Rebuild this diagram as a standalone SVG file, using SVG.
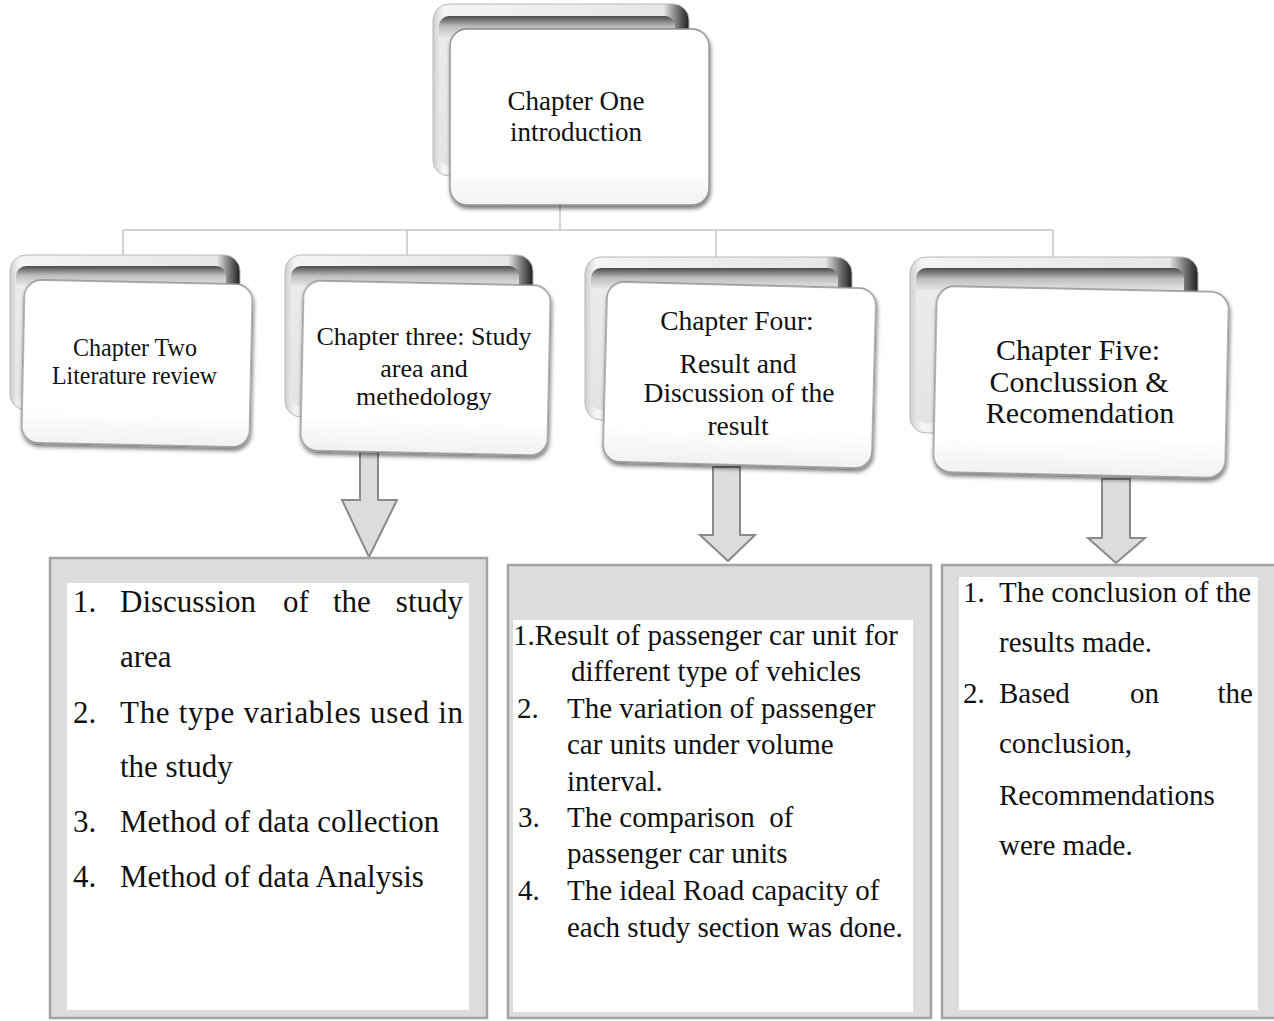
<svg xmlns="http://www.w3.org/2000/svg" width="1274" height="1021" viewBox="0 0 1274 1021">
<style>
.t{font-family:"Liberation Serif","Times New Roman",serif;fill:#111;}
.c{text-anchor:middle;}
.conn{stroke:#c6c6c6;stroke-width:1.5;fill:none;}
.arrow{fill:#dcdcdc;stroke:#8a8a8a;stroke-width:2;stroke-linejoin:miter;}
.outer{fill:#dcdcdc;stroke:#a3a3a3;stroke-width:2.5;}
.inner{fill:#ffffff;}
.bk{fill:url(#bkOuter);stroke:#b8b8b8;stroke-width:1;}
.bki{fill:url(#bkInner);}
.fr{fill:url(#frGrad);stroke:#8e8e8e;stroke-width:1.3;filter:url(#shadow);}
</style>
<defs>
<linearGradient id="bkOuter" x1="0" y1="0" x2="1" y2="0">
<stop offset="0" stop-color="#cfcfcf"/>
<stop offset="0.04" stop-color="#f4f4f4"/>
<stop offset="0.9" stop-color="#e6e6e6"/>
<stop offset="0.96" stop-color="#6a6a6a"/>
<stop offset="1" stop-color="#1e1e1e"/>
</linearGradient>
<linearGradient id="bkInner" x1="0" y1="0" x2="0" y2="1">
<stop offset="0" stop-color="#4a4a4a"/>
<stop offset="0.07" stop-color="#bdbdbd"/>
<stop offset="0.15" stop-color="#ebebeb"/>
<stop offset="1" stop-color="#e4e4e4"/>
</linearGradient>
<linearGradient id="frGrad" x1="0" y1="0" x2="0" y2="1">
<stop offset="0" stop-color="#ffffff"/>
<stop offset="0.8" stop-color="#ffffff"/>
<stop offset="1" stop-color="#f1f1f1"/>
</linearGradient>
<filter id="shadow" x="-10%" y="-10%" width="125%" height="130%">
<feGaussianBlur in="SourceAlpha" stdDeviation="2"/>
<feOffset dx="1" dy="3" result="o"/>
<feComponentTransfer><feFuncA type="linear" slope="0.55"/></feComponentTransfer>
<feMerge><feMergeNode/><feMergeNode in="SourceGraphic"/></feMerge>
</filter>
</defs>

<g id="connectors">
<path class="conn" d="M560,205 V230 M123,230 H1053 M123,230 V258 M407,230 V258 M716,230 V258 M1053,230 V258"/>
<polygon class="arrow" points="360,446 378,446 378,500 397,500 369,557 342,500 360,500"/>
<polygon class="arrow" points="713,467 740,467 740,535 755,535 728,561 700,535 713,535"/>
<polygon class="arrow" points="1102,479 1130,479 1130,538 1145,538 1116,563 1088,538 1102,538"/>
</g>

<g id="node-ch1">
<rect class="bk" x="433" y="4" width="256" height="172" rx="16"/>
<rect class="bki" x="439" y="16" width="236" height="150" rx="10"/>
<rect class="fr" x="450" y="29" width="259" height="176" rx="17"/>
<text class="t c" x="576" y="110" font-size="27">Chapter One</text>
<text class="t c" x="576" y="141" font-size="27">introduction</text>
</g>

<g id="node-ch2">
<rect class="bk" x="10" y="255" width="230" height="155" rx="16"/>
<rect class="bki" x="16" y="266" width="210" height="134" rx="10"/>
<rect class="fr" x="23" y="282" width="228" height="163" rx="17" transform="rotate(1.2 137 363)"/>
<text class="t" x="73" y="356" font-size="25" textLength="124" lengthAdjust="spacingAndGlyphs">Chapter Two</text>
<text class="t" x="52" y="384" font-size="25" textLength="165" lengthAdjust="spacingAndGlyphs">Literature review</text>
</g>

<g id="node-ch3">
<rect class="bk" x="285" y="255" width="248" height="162" rx="16"/>
<rect class="bki" x="291" y="266" width="228" height="141" rx="10"/>
<rect class="fr" x="302" y="283" width="247" height="170" rx="17" transform="rotate(1.2 425 368)"/>
<text class="t c" x="424" y="345" font-size="26">Chapter three: Study</text>
<text class="t c" x="424" y="377" font-size="26">area and</text>
<text class="t c" x="424" y="405" font-size="26">methedology</text>
</g>

<g id="node-ch4">
<rect class="bk" x="585" y="257" width="267" height="163" rx="16"/>
<rect class="bki" x="591" y="268" width="247" height="142" rx="10"/>
<rect class="fr" x="605" y="285" width="269" height="180" rx="17" transform="rotate(1.5 739 375)"/>
<text class="t c" x="737" y="330" font-size="27.5">Chapter Four:</text>
<text class="t c" x="738" y="373" font-size="27.5">Result and</text>
<text class="t c" x="739" y="402" font-size="27.5">Discussion of the</text>
<text class="t c" x="738" y="435" font-size="27.5">result</text>
</g>

<g id="node-ch5">
<rect class="bk" x="910" y="257" width="288" height="176" rx="16"/>
<rect class="bki" x="916" y="268" width="268" height="155" rx="10"/>
<rect class="fr" x="935" y="289" width="292" height="186" rx="18" transform="rotate(1.2 1081 382)"/>
<text class="t c" x="1078" y="360" font-size="30">Chapter Five:</text>
<text class="t c" x="1079" y="392" font-size="30">Conclussion &amp;</text>
<text class="t c" x="1080" y="423" font-size="30">Recomendation</text>
</g>

<g id="box-ch3">
<rect class="outer" x="50" y="558" width="437" height="460"/>
<rect class="inner" x="67" y="583" width="402" height="427"/>
<g class="t" font-size="31">
<text x="73" y="612">1.</text>
<text x="120" y="612">Discussion</text>
<text x="283" y="612">of</text>
<text x="333" y="612">the</text>
<text x="463" y="612" text-anchor="end">study</text>
<text x="120" y="667">area</text>
<text x="73" y="723">2.</text>
<text x="120" y="723" textLength="343" lengthAdjust="spacing">The type variables used in</text>
<text x="120" y="777">the study</text>
<text x="73" y="832">3.</text>
<text x="120" y="832">Method of data collection</text>
<text x="73" y="887">4.</text>
<text x="120" y="887">Method of data Analysis</text>
</g>
</g>

<g id="box-ch4">
<rect class="outer" x="508" y="565" width="423" height="453"/>
<rect class="inner" x="513" y="620" width="400" height="392"/>
<g class="t" font-size="29">
<text x="513" y="645">1.Result of passenger car unit for</text>
<text x="571" y="681">different type of vehicles</text>
<text x="517" y="718">2.</text>
<text x="567" y="718">The variation of passenger</text>
<text x="567" y="754">car units under volume</text>
<text x="567" y="791">interval.</text>
<text x="518" y="827">3.</text>
<text x="567" y="827" xml:space="preserve">The comparison  of</text>
<text x="567" y="863">passenger car units</text>
<text x="518" y="900">4.</text>
<text x="567" y="900">The ideal Road capacity of</text>
<text x="567" y="937">each study section was done.</text>
</g>
</g>

<g id="box-ch5">
<rect class="outer" x="942" y="565" width="340" height="453"/>
<rect class="inner" x="959" y="577" width="299" height="433"/>
<g class="t" font-size="29">
<text x="963" y="602">1.</text>
<text x="999" y="602">The conclusion of the</text>
<text x="999" y="652">results made.</text>
<text x="963" y="703">2.</text>
<text x="999" y="703">Based</text>
<text x="1130" y="703">on</text>
<text x="1253" y="703" text-anchor="end">the</text>
<text x="999" y="753">conclusion,</text>
<text x="999" y="805">Recommendations</text>
<text x="999" y="855">were made.</text>
</g>
</g>
</svg>
